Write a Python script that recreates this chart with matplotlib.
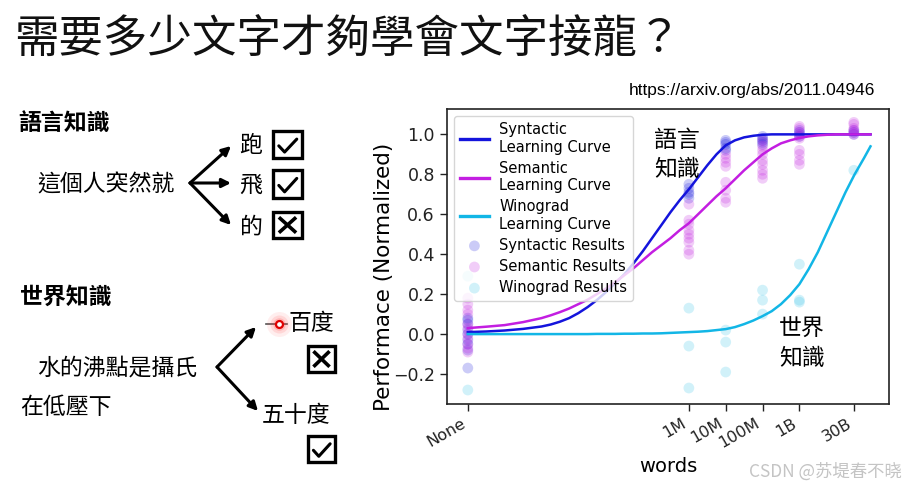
import matplotlib
matplotlib.use("Agg")
import matplotlib.pyplot as plt
from matplotlib.patches import Rectangle

# ---------------- data ----------------
tick_words = [1, 1e6, 1e7, 1e8, 1e9, 3e10]
tick_labels = ['None', '1M', '10M', '100M', '1B', '30B']

curve_words = [1, 3.16, 10, 31.6,
               100, 178, 316, 562, 1e3, 1.78e3, 3.16e3, 5.62e3,
               1e4, 1.78e4, 3.16e4, 5.62e4, 1e5, 1.78e5, 3.16e5, 5.62e5,
               1e6, 1.78e6, 3.16e6, 5.62e6, 1e7, 1.78e7, 3.16e7, 5.62e7,
               1e8, 1.78e8, 3.16e8, 5.62e8, 1e9, 1.78e9, 3.16e9, 5.62e9,
               1e10, 1.78e10, 3.16e10, 5.62e10, 8.5e10]
syntactic_curve = [0.010, 0.013, 0.018, 0.026,
                   0.038, 0.048, 0.062, 0.080, 0.105, 0.135, 0.170, 0.210,
                   0.255, 0.300, 0.355, 0.415, 0.480, 0.545, 0.610, 0.670,
                   0.725, 0.785, 0.845, 0.900, 0.945, 0.970, 0.985, 0.993,
                   0.998, 1.0, 1.0, 1.0, 1.0, 1.0, 1.0, 1.0,
                   1.0, 1.0, 1.0, 1.0, 1.0]
semantic_curve = [0.030, 0.037, 0.045, 0.060,
                  0.080, 0.094, 0.110, 0.128, 0.150, 0.172, 0.200, 0.228,
                  0.260, 0.295, 0.330, 0.370, 0.410, 0.445, 0.480, 0.520,
                  0.555, 0.600, 0.645, 0.690, 0.730, 0.775, 0.820, 0.860,
                  0.900, 0.930, 0.955, 0.970, 0.982, 0.990, 0.995, 0.998,
                  1.0, 1.0, 1.0, 1.0, 1.0]
winograd_curve = [0.0, 0.0, 0.0, 0.0,
                  0.0, 0.0, 0.0, 0.0, 0.0, 0.0, 0.001, 0.001,
                  0.001, 0.002, 0.002, 0.003, 0.003, 0.004, 0.006, 0.008,
                  0.010, 0.012, 0.015, 0.020, 0.025, 0.035, 0.050, 0.068,
                  0.090, 0.115, 0.150, 0.195, 0.250, 0.325, 0.410, 0.510,
                  0.610, 0.710, 0.800, 0.880, 0.940]

syn_x = [1]*9 + [1e6]*5 + [1e7]*5 + [1e8]*5 + [1e9]*4 + [3e10]*3
syn_y = [0.08, 0.07, 0.05, 0.02, 0.0, -0.03, -0.05, -0.08, -0.17,
         0.75, 0.73, 0.71, 0.70, 0.68,
         0.97, 0.96, 0.95, 0.93, 0.92,
         0.99, 0.98, 0.97, 0.96, 0.95,
         1.0, 1.01, 0.99, 1.02,
         1.02, 1.01, 1.0]
sem_x = [1]*11 + [1e6]*9 + [1e7]*8 + [1e8]*9 + [1e9]*9 + [3e10]*6
sem_y = [0.18, 0.15, 0.12, 0.10, 0.05, 0.03, 0.0, -0.02, -0.05, -0.07, -0.09,
         0.65, 0.57, 0.55, 0.52, 0.50, 0.48, 0.46, 0.42, 0.40,
         0.90, 0.88, 0.86, 0.84, 0.76, 0.72, 0.68, 0.66,
         0.97, 0.94, 0.92, 0.90, 0.87, 0.85, 0.82, 0.80, 0.78,
         1.04, 1.03, 1.01, 0.99, 0.98, 0.92, 0.90, 0.87, 0.85,
         1.06, 1.05, 1.03, 1.02, 1.01, 1.0]
win_x = [1]*2 + [1e6]*3 + [1e7]*3 + [1e8]*3 + [1e9]*3 + [3e10]*1
win_y = [0.29, -0.28,
         0.13, -0.06, -0.27,
         0.02, -0.04, -0.19,
         0.22, 0.17, 0.10,
         0.35, 0.17, 0.16,
         0.82]

c_syn = '#1414dc'
c_sem = '#c31ee1'
c_win = '#12b6e6'

CJK = ['Noto Sans CJK TC', 'DejaVu Sans']

W, H = 904, 488
fig = plt.figure(figsize=(W/100, H/100), dpi=100)
fig.patch.set_facecolor('white')

# overlay axes in pixel coordinates for slide elements
ov = fig.add_axes([0, 0, 1, 1])
ov.set_xlim(0, W)
ov.set_ylim(H, 0)
ov.axis('off')

ov.text(14, 40, '需要多少文字才夠學會文字接龍？', fontsize=32, family=CJK,
        fontweight='light', ha='left', va='center', color='#111111')
ov.text(875, 90, 'https://arxiv.org/abs/2011.04946', fontsize=12.5,
        family=['Liberation Sans Narrow', 'Liberation Sans'], ha='right', va='center', color='black')

ov.text(18, 123, '語言知識', fontsize=16.5, family=CJK, fontweight='bold', ha='left', va='center')
ov.text(37, 185, '這個人突然就', fontsize=16.5, family=CJK, ha='left', va='center')
for (tx, ty, ch) in [(251, 145, '跑'), (251, 185, '飛'), (251, 227, '的')]:
    ov.text(tx, ty, ch, fontsize=16.5, family=CJK, ha='center', va='center')

ov.text(20, 297, '世界知識', fontsize=16.5, family=CJK, fontweight='bold', ha='left', va='center')
ov.text(37, 368, '水的沸點是攝氏', fontsize=16.5, family=CJK, ha='left', va='center')
ov.text(20, 407, '在低壓下', fontsize=16.5, family=CJK, ha='left', va='center')
ov.text(289, 324, '百度', fontsize=16.5, family=CJK, ha='left', va='center')
ov.text(262, 415, '五十度', fontsize=16.5, family=CJK, ha='left', va='center')

arrow_kw = dict(arrowstyle='-|>', lw=2.2, color='black', mutation_scale=13, shrinkA=0, shrinkB=0)
for (x0, y0, x1, y1) in [(190, 183, 231, 146), (190, 183, 231, 183), (190, 183, 231, 225),
                         (217, 367, 256, 327), (217, 367, 258, 411)]:
    ov.annotate('', xy=(x1, y1), xytext=(x0, y0), arrowprops=arrow_kw)


def box(x0, y0, x1, y1, kind):
    ov.add_patch(Rectangle((x0, y0), x1 - x0, y1 - y0, fill=False, lw=2.4, ec='black', joinstyle='miter'))
    w, h = x1 - x0, y1 - y0
    if kind == 'check':
        ov.plot([x0 + 0.2*w, x0 + 0.4*w, x0 + 0.82*w], [y0 + 0.55*h, y0 + 0.78*h, y0 + 0.3*h],
                color='black', lw=2.2, solid_capstyle='round', solid_joinstyle='round')
    else:
        ov.plot([x0 + 0.25*w, x0 + 0.75*w], [y0 + 0.25*h, y0 + 0.75*h], color='black', lw=2.6)
        ov.plot([x0 + 0.25*w, x0 + 0.75*w], [y0 + 0.75*h, y0 + 0.25*h], color='black', lw=2.6)


box(273, 131, 302, 158, 'check')
box(273, 170, 302, 198, 'check')
box(273, 212, 302, 238, 'x')
box(308, 346, 335, 372, 'x')
box(308, 436, 335, 462, 'check')

# laser pointer dot
ov.plot([266, 287], [324, 324], color='#555555', lw=1.2)
for r, a in [(18, 0.08), (13, 0.12), (9, 0.18)]:
    ov.plot([279], [324], 'o', ms=r, color='#ff3030', alpha=a, mec='none')
ov.plot([279], [324], 'o', ms=5, mfc='white', mec='#e00000', mew=1.6)

ov.text(902, 472, 'CSDN @苏堤春不晓', fontsize=12.5, family=['Noto Sans CJK SC', 'DejaVu Sans'],
        ha='right', va='center', color='#c4c4c4')

# ---------------- chart ----------------
ax = fig.add_axes([446.7/W, 1 - 404/H, (889.3 - 446.7)/W, (404 - 109)/H])
ax.set_xscale('log')

ax.scatter(syn_x, syn_y, s=60, color=c_syn, alpha=0.22, edgecolors='none', label='Syntactic Results', zorder=2)
ax.scatter(sem_x, sem_y, s=60, color=c_sem, alpha=0.22, edgecolors='none', label='Semantic Results', zorder=2)
ax.scatter(win_x, win_y, s=60, color='#30c0e8', alpha=0.22, edgecolors='none', label='Winograd Results', zorder=2)

ax.plot(curve_words, syntactic_curve, color=c_syn, lw=1.8, label='Syntactic\nLearning Curve', zorder=3)
ax.plot(curve_words, semantic_curve, color=c_sem, lw=1.8, label='Semantic\nLearning Curve', zorder=3)
ax.plot(curve_words, winograd_curve, color=c_win, lw=1.8, label='Winograd\nLearning Curve', zorder=3)

ax.set_xlim(10**-0.573, 10**11.44)
ax.set_ylim(-0.35, 1.127)
ax.set_xticks(tick_words)
ax.set_xticklabels(tick_labels, rotation=30, ha='right', fontsize=11.5)
ax.minorticks_off()
ax.set_yticks([-0.2, 0.0, 0.2, 0.4, 0.6, 0.8, 1.0])
ax.set_yticklabels(['−0.2', '0.0', '0.2', '0.4', '0.6', '0.8', '1.0'], fontsize=12.5)
ax.tick_params(direction='out', length=5, width=1, colors='#222222')
for sp in ax.spines.values():
    sp.set_linewidth(1.2)
    sp.set_color('#222222')

ax.set_xlabel('words', fontsize=14, labelpad=4)
ax.set_ylabel('Performace (Normalized)', fontsize=15.5)
ax.yaxis.set_label_coords(-0.12, 0.43)

ax.text(10**5.05, 1.025, '語言\n知識', family=CJK, fontsize=16.5, ha='left', va='top', linespacing=1.3)
ax.text(10**8.45, 0.08, '世界\n知識', family=CJK, fontsize=16.5, ha='left', va='top', linespacing=1.3)

handles, labels = ax.get_legend_handles_labels()
order = [3, 4, 5, 0, 1, 2]
leg = ax.legend([handles[i] for i in order], [labels[i] for i in order], loc='upper left',
                fontsize=10.5, labelspacing=0.42, handlelength=2.0, handletextpad=0.7,
                borderpad=0.4, framealpha=0.8)
for lh in leg.get_lines():
    lh.set_linewidth(2.4)

fig.savefig('out.png', dpi=100)
